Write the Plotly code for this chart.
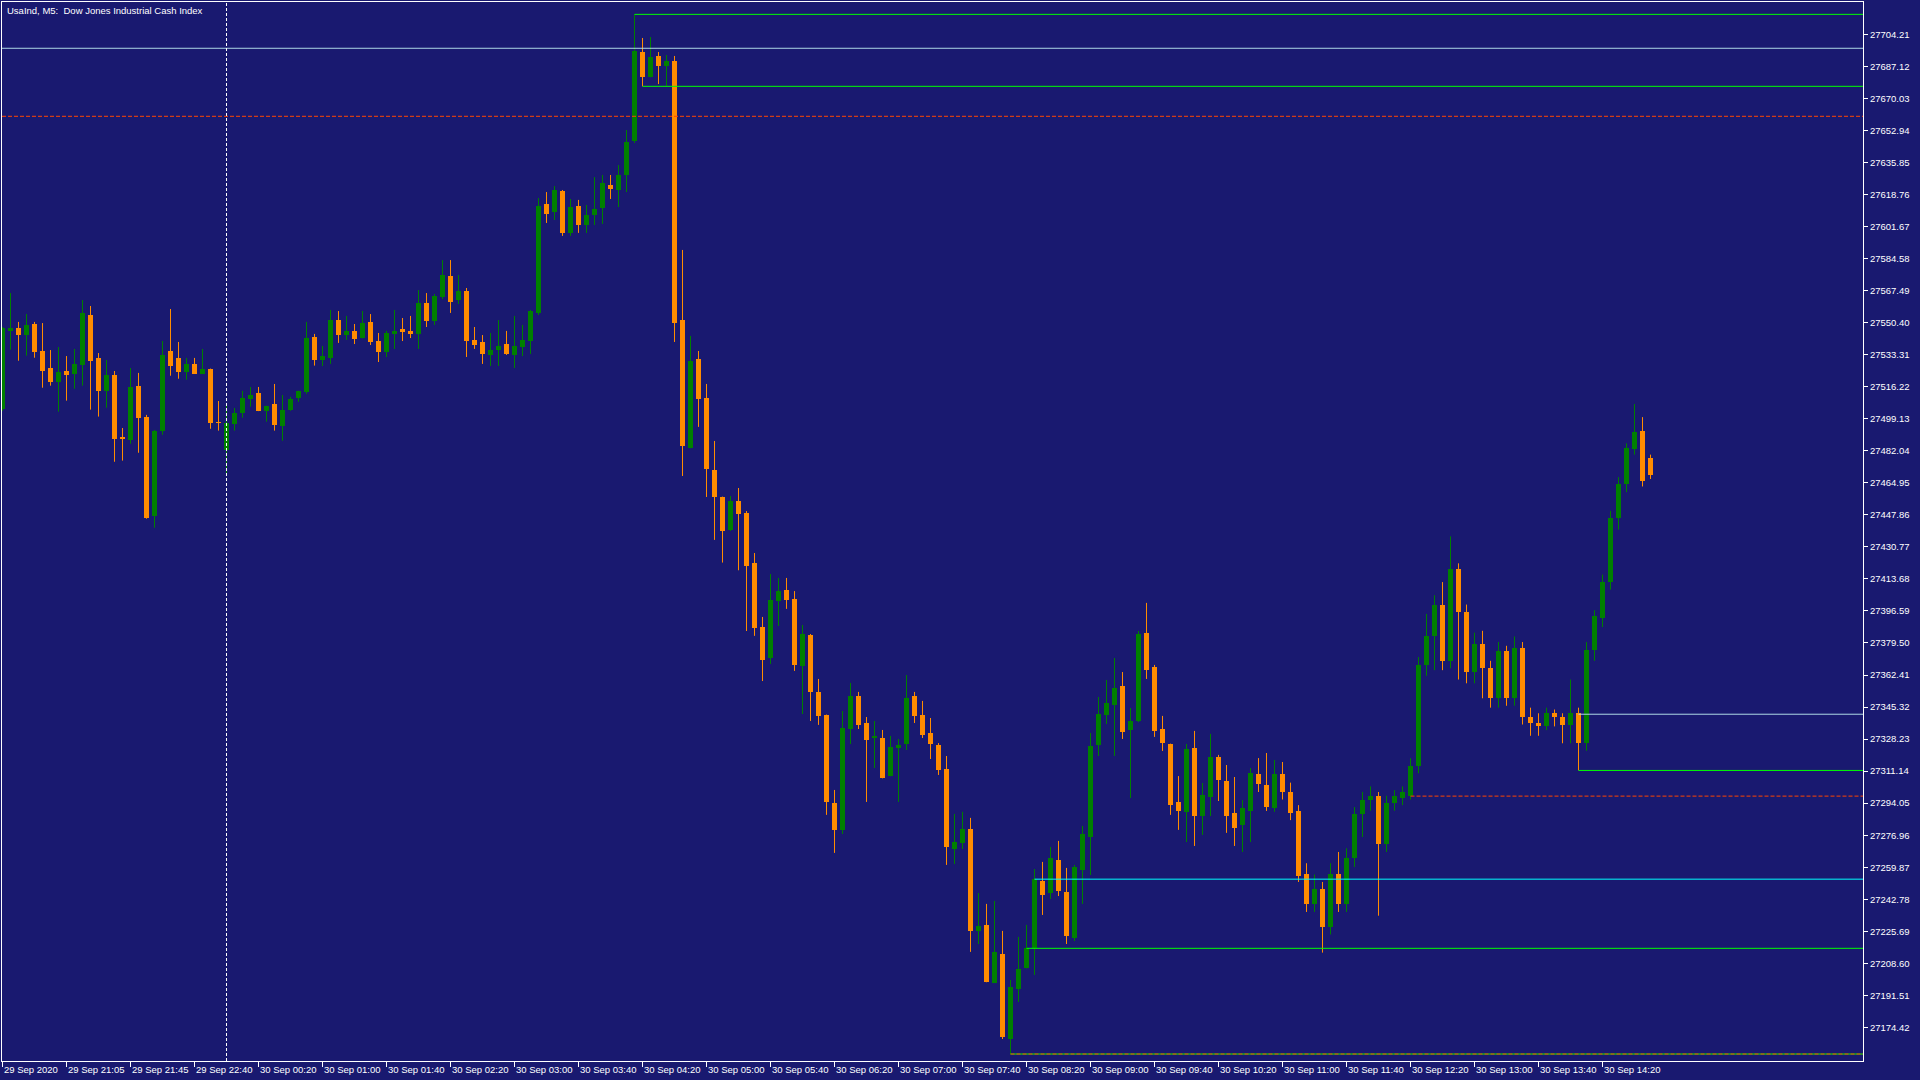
import plotly.graph_objects as go

title_text = "UsaInd, M5:\u00a0 Dow Jones Industrial Cash Index"

x_tick_labels = ["29 Sep 2020", "29 Sep 21:05", "29 Sep 21:45", "29 Sep 22:40", "30 Sep 00:20",
                 "30 Sep 01:00", "30 Sep 01:40", "30 Sep 02:20", "30 Sep 03:00", "30 Sep 03:40",
                 "30 Sep 04:20", "30 Sep 05:00", "30 Sep 05:40", "30 Sep 06:20", "30 Sep 07:00",
                 "30 Sep 07:40", "30 Sep 08:20", "30 Sep 09:00", "30 Sep 09:40", "30 Sep 10:20",
                 "30 Sep 11:00", "30 Sep 11:40", "30 Sep 12:20", "30 Sep 13:00", "30 Sep 13:40",
                 "30 Sep 14:20"]
bars_per_label = 8

y_tick_labels = ["27704.21", "27687.12", "27670.03", "27652.94", "27635.85", "27618.76", "27601.67",
                 "27584.58", "27567.49", "27550.40", "27533.31", "27516.22", "27499.13", "27482.04",
                 "27464.95", "27447.86", "27430.77", "27413.68", "27396.59", "27379.50", "27362.41",
                 "27345.32", "27328.23", "27311.14", "27294.05", "27276.96", "27259.87", "27242.78",
                 "27225.69", "27208.60", "27191.51", "27174.42"]

open_ = [
    27504.2, 27546.1, 27547.6, 27543.8, 27549.7, 27535.3, 27526.2, 27518.9, 27524.6, 27523.2,
    27527.8, 27554.5, 27531.6, 27514.1, 27522.5, 27489.3, 27488.0, 27516.6, 27500.1, 27447.4,
    27492.8, 27535.3, 27531.6, 27524.3, 27528.4, 27523.2, 27525.7, 27497.4, 27482.6, 27496.5,
    27502.4, 27509.7, 27512.9, 27503.4, 27507.0, 27495.4, 27504.0, 27510.4, 27513.6, 27542.8,
    27530.5, 27531.7, 27551.8, 27543.8, 27546.0, 27542.2, 27550.8, 27540.6, 27534.8, 27544.4,
    27547.0, 27546.0, 27544.4, 27560.9, 27551.3, 27564.1, 27575.3, 27562.5, 27567.3, 27541.2,
    27540.1, 27533.2, 27535.8, 27539.0, 27533.2, 27537.4, 27540.6, 27555.6, 27613.7, 27609.5,
    27620.7, 27598.3, 27612.7, 27602.5, 27607.9, 27611.6, 27623.9, 27621.2, 27629.2, 27647.3,
    27694.8, 27681.5, 27692.7, 27687.4, 27690.0, 27551.8, 27483.6, 27531.0, 27510.2, 27471.8,
    27457.4, 27439.8, 27455.3, 27448.9, 27422.2, 27388.1, 27371.5, 27401.9, 27407.8, 27403.0,
    27367.2, 27383.8, 27353.4, 27341.1, 27294.2, 27279.8, 27333.6, 27351.2, 27336.8, 27329.1,
    27328.8, 27308.5, 27323.5, 27325.6, 27351.2, 27341.1, 27331.5, 27325.1, 27312.3, 27269.6,
    27272.8, 27280.3, 27225.9, 27229.1, 27198.1, 27213.6, 27168.2, 27194.9, 27206.1, 27216.8,
    27252.5, 27246.1, 27263.7, 27246.7, 27222.1, 27258.4, 27276.0, 27325.1, 27341.1, 27346.4,
    27356.6, 27333.1, 27337.9, 27384.9, 27366.7, 27333.6, 27325.6, 27294.7, 27289.4, 27323.5,
    27287.2, 27297.3, 27318.7, 27305.9, 27288.8, 27282.4, 27289.9, 27309.6, 27303.7, 27291.5,
    27309.6, 27300.0, 27290.0, 27256.0, 27240.0, 27248.0, 27228.0, 27256.0, 27240.0, 27265.0,
    27288.0, 27296.0, 27298.0, 27272.0, 27294.0, 27297.0, 27297.8, 27314.0, 27368.0, 27383.0,
    27400.0, 27370.0, 27419.0, 27396.0, 27364.0, 27379.0, 27366.0, 27350.0, 27375.0, 27350.0,
    27377.0, 27340.0, 27337.0, 27335.0, 27342.0, 27340.0, 27336.0, 27342.0, 27326.0, 27376.0,
    27393.0, 27412.0, 27446.0, 27464.5, 27483.0, 27492.6, 27478.2,
]
high = [
    27548.1, 27566.2, 27550.8, 27555.0, 27550.8, 27550.2, 27535.8, 27537.4, 27532.6, 27536.4,
    27562.5, 27559.3, 27534.2, 27530.5, 27524.6, 27494.2, 27526.2, 27523.6, 27501.2, 27493.2,
    27540.6, 27557.7, 27540.1, 27531.6, 27531.6, 27536.4, 27525.9, 27508.6, 27506.0, 27504.9,
    27514.0, 27516.1, 27516.1, 27506.1, 27517.7, 27511.8, 27510.8, 27514.1, 27550.8, 27544.4,
    27538.0, 27557.2, 27556.6, 27554.0, 27549.7, 27556.6, 27555.0, 27544.9, 27546.0, 27557.2,
    27552.9, 27554.0, 27567.8, 27566.2, 27565.7, 27583.8, 27583.8, 27575.8, 27568.9, 27548.1,
    27543.8, 27544.9, 27551.8, 27546.0, 27554.0, 27549.2, 27557.2, 27616.9, 27620.1, 27623.3,
    27621.2, 27616.4, 27615.9, 27613.2, 27628.1, 27629.2, 27629.2, 27634.5, 27653.2, 27714.9,
    27702.3, 27702.8, 27694.8, 27693.2, 27692.7, 27589.2, 27543.3, 27535.3, 27517.7, 27487.3,
    27457.6, 27457.9, 27462.2, 27449.9, 27427.5, 27393.4, 27416.3, 27414.2, 27414.2, 27407.2,
    27389.1, 27384.3, 27360.3, 27341.3, 27301.1, 27343.2, 27358.2, 27353.4, 27340.0, 27337.9,
    27333.1, 27329.9, 27328.3, 27362.4, 27353.4, 27348.6, 27339.5, 27326.1, 27319.2, 27288.3,
    27289.4, 27286.2, 27246.1, 27240.3, 27241.9, 27225.9, 27199.7, 27222.7, 27229.1, 27258.9,
    27262.7, 27270.7, 27273.9, 27259.5, 27261.1, 27281.9, 27331.5, 27350.7, 27359.8, 27371.5,
    27364.0, 27344.8, 27385.9, 27400.9, 27367.8, 27340.6, 27325.8, 27308.5, 27325.6, 27332.6,
    27304.8, 27331.0, 27319.8, 27314.4, 27308.0, 27295.7, 27312.8, 27318.1, 27320.8, 27317.1,
    27316.0, 27305.0, 27293.0, 27262.0, 27256.0, 27252.0, 27262.0, 27268.0, 27270.0, 27292.0,
    27300.0, 27303.0, 27300.0, 27298.0, 27301.0, 27303.0, 27318.0, 27372.0, 27395.0, 27405.0,
    27412.0, 27436.4, 27422.0, 27400.0, 27385.0, 27386.0, 27370.0, 27380.0, 27378.0, 27383.0,
    27380.0, 27345.0, 27342.0, 27345.0, 27344.0, 27342.0, 27360.0, 27345.0, 27380.0, 27397.0,
    27416.0, 27450.0, 27468.0, 27486.0, 27507.0, 27500.0, 27480.0,
]
low = [
    27503.3, 27536.0, 27530.1, 27532.8, 27531.7, 27515.7, 27516.8, 27502.9, 27508.8, 27515.2,
    27516.8, 27504.0, 27500.3, 27505.0, 27476.2, 27476.8, 27485.8, 27481.0, 27445.8, 27441.0,
    27490.6, 27522.1, 27520.5, 27520.0, 27523.0, 27523.0, 27493.8, 27492.8, 27468.8, 27492.8,
    27499.7, 27505.6, 27503.2, 27497.6, 27492.8, 27487.4, 27503.4, 27508.2, 27512.5, 27527.5,
    27527.3, 27528.4, 27539.6, 27541.2, 27539.0, 27542.0, 27538.5, 27529.4, 27532.1, 27536.4,
    27540.6, 27542.2, 27536.4, 27548.1, 27549.2, 27563.0, 27555.6, 27560.4, 27532.1, 27536.4,
    27528.4, 27527.3, 27527.3, 27533.2, 27526.2, 27532.6, 27533.7, 27554.5, 27603.6, 27605.2,
    27596.7, 27596.7, 27598.3, 27598.3, 27602.5, 27603.1, 27616.4, 27612.1, 27620.1, 27646.3,
    27676.5, 27681.3, 27677.7, 27676.7, 27540.1, 27468.6, 27483.4, 27494.8, 27457.4, 27434.5,
    27422.4, 27439.3, 27418.3, 27385.9, 27383.3, 27359.2, 27368.3, 27388.6, 27397.7, 27364.6,
    27341.6, 27337.9, 27335.8, 27287.8, 27267.5, 27277.6, 27325.6, 27333.6, 27294.7, 27312.8,
    27307.3, 27308.4, 27294.7, 27322.4, 27336.8, 27328.8, 27317.6, 27309.1, 27261.1, 27261.6,
    27269.6, 27214.7, 27218.9, 27198.5, 27198.0, 27168.2, 27160.2, 27188.0, 27205.9, 27202.4,
    27234.4, 27242.9, 27244.5, 27218.9, 27220.5, 27240.3, 27255.7, 27319.2, 27336.3, 27319.2,
    27328.3, 27296.8, 27337.3, 27360.3, 27329.4, 27321.9, 27287.8, 27279.8, 27273.3, 27271.2,
    27277.1, 27287.2, 27295.2, 27278.2, 27271.2, 27268.0, 27273.3, 27300.0, 27289.9, 27289.4,
    27296.0, 27285.0, 27252.0, 27236.0, 27236.0, 27214.3, 27224.0, 27236.0, 27236.0, 27260.0,
    27276.0, 27290.0, 27234.0, 27268.0, 27290.0, 27293.0, 27296.0, 27310.0, 27362.0, 27365.0,
    27365.0, 27366.0, 27360.0, 27358.0, 27358.0, 27350.0, 27345.0, 27345.0, 27346.0, 27346.0,
    27336.0, 27330.0, 27330.0, 27333.0, 27335.0, 27326.0, 27326.0, 27311.6, 27322.0, 27370.0,
    27388.0, 27408.0, 27440.0, 27460.0, 27480.0, 27463.0, 27467.0,
]
close = [
    27547.4, 27547.6, 27543.8, 27549.2, 27534.9, 27524.8, 27518.9, 27524.1, 27522.7, 27528.4,
    27555.6, 27530.1, 27514.1, 27522.5, 27488.5, 27488.8, 27516.1, 27499.7, 27446.4, 27492.6,
    27533.2, 27527.5, 27524.3, 27528.4, 27523.2, 27525.7, 27497.0, 27497.0, 27496.9, 27502.2,
    27510.2, 27511.8, 27503.4, 27506.0, 27496.0, 27503.8, 27509.7, 27514.0, 27542.2, 27530.7,
    27532.6, 27551.8, 27543.8, 27546.0, 27541.7, 27550.2, 27540.1, 27534.8, 27544.9, 27546.0,
    27545.4, 27544.4, 27560.9, 27551.3, 27564.6, 27575.8, 27561.4, 27567.3, 27540.6, 27538.5,
    27533.7, 27535.8, 27538.0, 27533.7, 27538.0, 27541.2, 27556.6, 27612.7, 27608.4, 27621.2,
    27598.3, 27612.1, 27602.5, 27607.9, 27611.1, 27624.9, 27621.7, 27629.2, 27646.8, 27695.4,
    27681.5, 27692.2, 27687.4, 27690.0, 27550.2, 27484.6, 27530.0, 27509.7, 27472.3, 27457.4,
    27439.3, 27455.3, 27448.3, 27420.6, 27387.5, 27370.4, 27402.4, 27407.2, 27402.4, 27367.8,
    27384.3, 27353.4, 27340.6, 27294.7, 27279.8, 27334.2, 27351.2, 27335.8, 27327.8, 27329.4,
    27307.5, 27324.0, 27325.1, 27350.2, 27340.6, 27330.4, 27325.6, 27311.7, 27270.7, 27273.3,
    27280.3, 27225.9, 27228.5, 27198.7, 27214.7, 27169.3, 27196.0, 27205.6, 27216.8, 27253.6,
    27245.1, 27264.8, 27247.2, 27223.2, 27260.0, 27277.6, 27324.5, 27341.6, 27347.5, 27355.5,
    27332.0, 27337.9, 27384.3, 27365.1, 27332.6, 27326.1, 27293.1, 27289.9, 27323.0, 27287.2,
    27298.4, 27318.7, 27306.4, 27287.2, 27280.8, 27291.5, 27310.1, 27304.3, 27292.0, 27309.6,
    27300.0, 27289.0, 27255.0, 27240.0, 27248.0, 27228.0, 27256.0, 27240.0, 27265.0, 27288.0,
    27296.0, 27298.0, 27272.0, 27294.0, 27298.0, 27300.0, 27314.0, 27368.0, 27383.0, 27400.0,
    27370.0, 27419.0, 27396.0, 27364.0, 27379.0, 27366.0, 27350.0, 27375.0, 27350.0, 27377.0,
    27340.0, 27337.0, 27335.0, 27342.0, 27340.0, 27336.0, 27342.0, 27326.0, 27376.0, 27394.0,
    27412.0, 27446.0, 27464.5, 27483.5, 27492.0, 27465.8, 27469.1,
]

# horizontal level objects: price, first bar (None = whole width)
level_price = [27696.8, 27714.9, 27676.5, 27660.5, 27341.5, 27311.5, 27297.8, 27253.5, 27216.6, 27160.2, 27160.2]
level_start = [None, 79, 80, None, 197, 197, 176, 129, 128, 126, 126]
level_style = ["pale", "lime", "lime", "red", "pale", "lime", "red", "cyan", "lime", "lime", "red"]
separator_bar = 28

# ---------------- styles ----------------
BG = "#191970"
BULL = "#008000"
BEAR = "#FF8C00"
STYLE = {
    "pale": dict(color="#ADD8E6", width=1, dash="solid"),
    "cyan": dict(color="#00FFFF", width=1, dash="solid"),
    "lime": dict(color="#00FF00", width=1, dash="solid"),
    "red": dict(color="#FF4500", width=1, dash="4px,2px"),
}
FONT = "Liberation Sans, Arial, sans-serif"
X_MAX = 232.5625

fig = go.Figure()
n = len(open_)
xs = list(range(n))
bull = [i for i in xs if close[i] >= open_[i]]
bear = [i for i in xs if close[i] < open_[i]]

for idx, col in ((bull, BULL), (bear, BEAR)):
    wx, wy = [], []
    for i in idx:
        wx += [i, i, None]
        wy += [low[i], high[i], None]
    fig.add_trace(go.Bar(
        x=idx,
        base=[min(open_[i], close[i]) for i in idx],
        y=[max(abs(close[i] - open_[i]), 0.4) for i in idx],
        width=0.625,
        marker=dict(color=col, line=dict(width=0)),
        hoverinfo="skip", showlegend=False))
    fig.add_trace(go.Scatter(
        x=wx, y=wy, mode="lines", line=dict(color=col, width=1),
        hoverinfo="skip", showlegend=False))

shapes = []
for p, s, st in zip(level_price, level_start, level_style):
    ln = STYLE[st]
    if s is None:
        shapes.append(dict(type="line", xref="paper", yref="y", x0=0, x1=1, y0=p, y1=p,
                           line=ln, layer="above"))
    else:
        shapes.append(dict(type="line", xref="x", yref="y", x0=s, x1=X_MAX, y0=p, y1=p,
                           line=ln, layer="above"))
shapes.append(dict(type="line", xref="x", yref="paper", x0=separator_bar, x1=separator_bar,
                   y0=0, y1=1, line=dict(color="white", width=1, dash="3px,2px"), layer="above"))

x_tick_vals = [k * bars_per_label for k in range(len(x_tick_labels))]
annotations = [dict(text=t, x=v, xref="x", y=0, yref="paper", xanchor="left", yanchor="middle",
                    xshift=-1, yshift=-8, showarrow=False,
                    font=dict(family=FONT, size=9.5, color="white"))
               for t, v in zip(x_tick_labels, x_tick_vals)]
annotations.append(dict(text=title_text, x=0, xref="paper", y=1, yref="paper",
                        xanchor="left", yanchor="top", xshift=3, yshift=-1, showarrow=False,
                        font=dict(family=FONT, size=9.5, color="white")))

fig.update_layout(
    width=1920, height=1080,
    margin=dict(l=2, r=57, t=2, b=19, pad=0),
    paper_bgcolor=BG, plot_bgcolor=BG,
    barmode="overlay", bargap=0,
    showlegend=False,
    shapes=shapes, annotations=annotations,
    xaxis=dict(range=[-0.0625, X_MAX], tickvals=x_tick_vals, showticklabels=False,
               ticks="outside", ticklen=5, tickcolor="white", tickwidth=1,
               showgrid=False, zeroline=False, showline=True, linecolor="white",
               linewidth=1, mirror=True, fixedrange=True),
    yaxis=dict(range=[27156.48, 27721.49], side="right",
               tickvals=[float(t) for t in y_tick_labels], ticktext=y_tick_labels,
               ticks="outside", ticklen=4, tickcolor="white", tickwidth=1,
               tickfont=dict(family=FONT, size=9.5, color="white"),
               showgrid=False, zeroline=False, showline=True, linecolor="white",
               linewidth=1, mirror=True, fixedrange=True),
)

fig.write_html("out.html", config={"displayModeBar": False},
               post_script="document.body.style.margin='0';document.body.style.background='#191970';")
